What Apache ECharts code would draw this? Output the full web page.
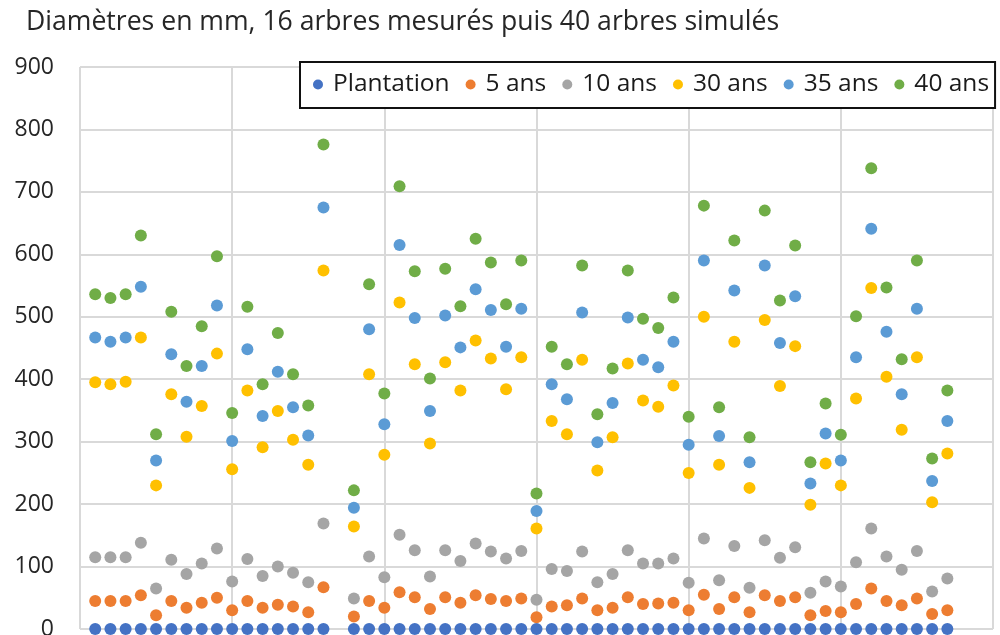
<!DOCTYPE html>
<html>
<head>
<meta charset="utf-8">
<script src="https://cdn.jsdelivr.net/npm/echarts@6/dist/echarts.min.js"></script>
<style>
html,body{margin:0;padding:0;background:#fff;overflow:hidden;}
#c{width:1000px;height:635px;}
</style>
</head>
<body>
<div id="c"></div>
<script>
// Tree index (x): 16 measured trees (1..16), then 40 simulated trees (18..57)
var treeIndex = [1,2,3,4,5,6,7,8,9,10,11,12,13,14,15,16,
  18,19,20,21,22,23,24,25,26,27,28,29,30,31,32,33,34,35,36,37,
  38,39,40,41,42,43,44,45,46,47,48,49,50,51,52,53,54,55,56,57];

var seriesNames = ['Plantation','5 ans','10 ans','30 ans','35 ans','40 ans'];
var seriesColors = ['#4472C4','#ED7D31','#A5A5A5','#FFC000','#5B9BD5','#70AD47'];

var plantation = [0,0,0,0,0,0,0,0,0,0,0,0,0,0,0,0,
  0,0,0,0,0,0,0,0,0,0,0,0,0,0,0,0,0,0,0,0,0,0,0,0,
  0,0,0,0,0,0,0,0,0,0,0,0,0,0,0,0];

var ans5 = [45,45,45,54,22,45,34,42,50,30,45,34,39,36,27,67,
  20,45,34,59,51,32,51,42,54,48,45,49,19,36,38,49,30,34,51,40,
  41,42,30,55,32,51,27,54,45,51,22,29,27,40,65,45,38,49,24,30];

var ans10 = [115,115,115,138,65,111,88,105,129,76,112,85,100,90,75,169,
  49,116,83,151,126,84,126,109,137,124,113,125,47,96,93,124,75,88,126,105,
  105,113,74,145,78,133,66,142,114,131,58,76,68,107,161,116,95,125,60,81];

var ans30 = [395,392,396,467,230,376,308,357,441,256,382,291,349,303,263,574,
  164,408,279,523,424,297,427,382,462,433,384,435,161,333,312,431,254,307,425,366,
  356,390,250,500,263,460,226,495,389,453,199,265,230,369,546,404,319,435,203,281];

var ans35 = [467,460,467,548,270,440,364,421,518,301,448,341,412,355,310,675,
  194,480,328,615,498,349,502,451,544,511,452,513,189,392,368,507,299,362,499,431,
  419,460,295,590,309,542,267,582,458,533,233,313,270,435,641,476,376,513,237,333];

var ans40 = [536,530,536,630,312,508,421,485,597,346,516,392,474,408,358,776,
  222,552,377,709,573,401,577,517,625,587,520,590,217,452,424,582,344,417,574,497,
  482,531,340,678,355,622,307,670,526,614,267,361,311,501,738,547,432,590,273,382];

var yTicks = [0,100,200,300,400,500,600,700,800,900];

var allValues = [plantation, ans5, ans10, ans30, ans35, ans40];

function pairs(vals){
  return treeIndex.map(function(x,i){ return [x, vals[i]]; });
}

var series = seriesNames.map(function(name, k){
  return {
    name: name,
    type: 'scatter',
    symbol: 'circle',
    symbolSize: 12,
    itemStyle: {color: seriesColors[k], opacity: 1},
    data: pairs(allValues[k]),
    z: 2 + k
  };
});

var chart = echarts.init(document.getElementById('c'), null, {renderer:'canvas'});
chart.setOption({
  animation: false,
  textStyle: {fontFamily: 'Open Sans'},
  title: {
    text: 'Diamètres en mm, 16 arbres mesurés puis 40 arbres simulés',
    left: 26, top: 9, padding: 0,
    textStyle: {fontFamily: 'Open Sans', fontSize: 26.6, fontWeight: 'normal', color: '#262626'}
  },
  legend: {
    data: seriesNames,
    left: 300, top: 62,
    orient: 'horizontal',
    icon: 'circle',
    itemWidth: 20, itemHeight: 10, itemGap: 16,
    padding: [10, 6, 11, 13],
    backgroundColor: '#fff',
    borderColor: '#111', borderWidth: 2,
    textStyle: {fontFamily: 'Open Sans', fontSize: 24.5, color: '#1a1a1a'}
  },
  grid: {left: 80, right: 7, top: 67, bottom: 6, containLabel: false, outerBoundsMode: 'none'},
  xAxis: {
    type: 'value', min: 0, max: 60, interval: 10,
    axisLabel: {show: false},
    axisTick: {show: false},
    axisLine: {show: false},
    splitLine: {show: true, lineStyle: {color: '#d9d9d9', width: 2}}
  },
  yAxis: {
    type: 'value', min: yTicks[0], max: yTicks[yTicks.length-1], interval: 100,
    axisLabel: {fontFamily: 'Open Sans', fontSize: 23, color: '#262626', margin: 26},
    axisTick: {show: false},
    axisLine: {show: false},
    splitLine: {show: true, lineStyle: {color: '#d9d9d9', width: 2}}
  },
  series: series
});
</script>
</body>
</html>
